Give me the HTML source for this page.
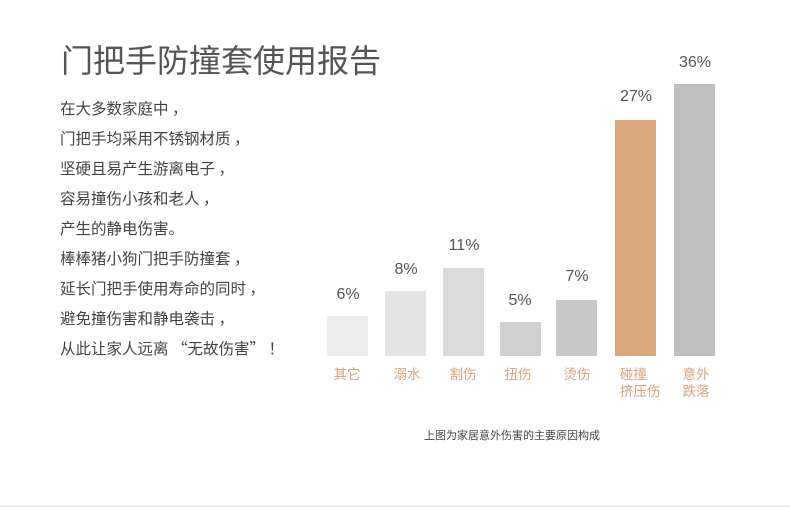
<!DOCTYPE html>
<html><head><meta charset="utf-8"><style>
body{margin:0;width:790px;height:507px;background:#fff;position:relative;overflow:hidden;font-family:"Liberation Sans","Noto Sans CJK SC",sans-serif;}
.t{position:absolute;left:61px;top:36px;font-size:32px;color:#555;white-space:nowrap;}
.b{position:absolute;left:60px;top:93px;font-size:15.5px;line-height:30px;color:#444;white-space:nowrap;font-family:"Noto Sans CJK SC",sans-serif;}
.bar{position:absolute;width:41px;bottom:151px;}
.pct{position:absolute;width:60px;text-align:center;font-size:16px;color:#555;}
.cat{position:absolute;width:60px;text-align:center;font-size:13.5px;line-height:17px;color:#d9a07a;top:366px;}
.cap{position:absolute;left:424px;top:427px;font-size:11px;color:#444;}
.line{position:absolute;left:0;top:505px;width:790px;height:2px;background:#ececec;}
</style></head><body>
<div class="t">门把手防撞套使用报告</div>
<div class="b">在大多数家庭中 ，<br>门把手均采用不锈钢材质 ，<br>坚硬且易产生游离电子 ，<br>容易撞伤小孩和老人 ，<br>产生的静电伤害。<br>棒棒猪小狗门把手防撞套 ，<br>延长门把手使用寿命的同时 ，<br>避免撞伤害和静电袭击 ，<br>从此让家人远离 “无故伤害” ！</div>

<div class="bar" style="left:327px;top:316px;background:#ececec"></div>
<div class="bar" style="left:385px;top:291px;background:#e4e4e4"></div>
<div class="bar" style="left:443px;top:268px;background:#dadada"></div>
<div class="bar" style="left:500px;top:322px;background:#d0d0d0"></div>
<div class="bar" style="left:556px;top:300px;background:#c8c8c8"></div>
<div class="bar" style="left:615px;top:120px;background:#daa67b"></div>
<div class="bar" style="left:674px;top:84px;background:#bfbfbf"></div>

<div class="pct" style="left:318px;top:286px">6%</div>
<div class="pct" style="left:376px;top:261px">8%</div>
<div class="pct" style="left:434px;top:237px">11%</div>
<div class="pct" style="left:490px;top:292px">5%</div>
<div class="pct" style="left:547px;top:268px">7%</div>
<div class="pct" style="left:606px;top:88px">27%</div>
<div class="pct" style="left:665px;top:54px">36%</div>

<div class="cat" style="left:317px">其它</div>
<div class="cat" style="left:377px">溺水</div>
<div class="cat" style="left:433px">割伤</div>
<div class="cat" style="left:488px">扭伤</div>
<div class="cat" style="left:547px">烫伤</div>
<div class="cat" style="left:610px;text-align:left;padding-left:10px;width:50px">碰撞<br>挤压伤</div>
<div class="cat" style="left:666px">意外<br>跌落</div>

<div class="cap">上图为家居意外伤害的主要原因构成</div>
<div class="line"></div>
</body></html>
